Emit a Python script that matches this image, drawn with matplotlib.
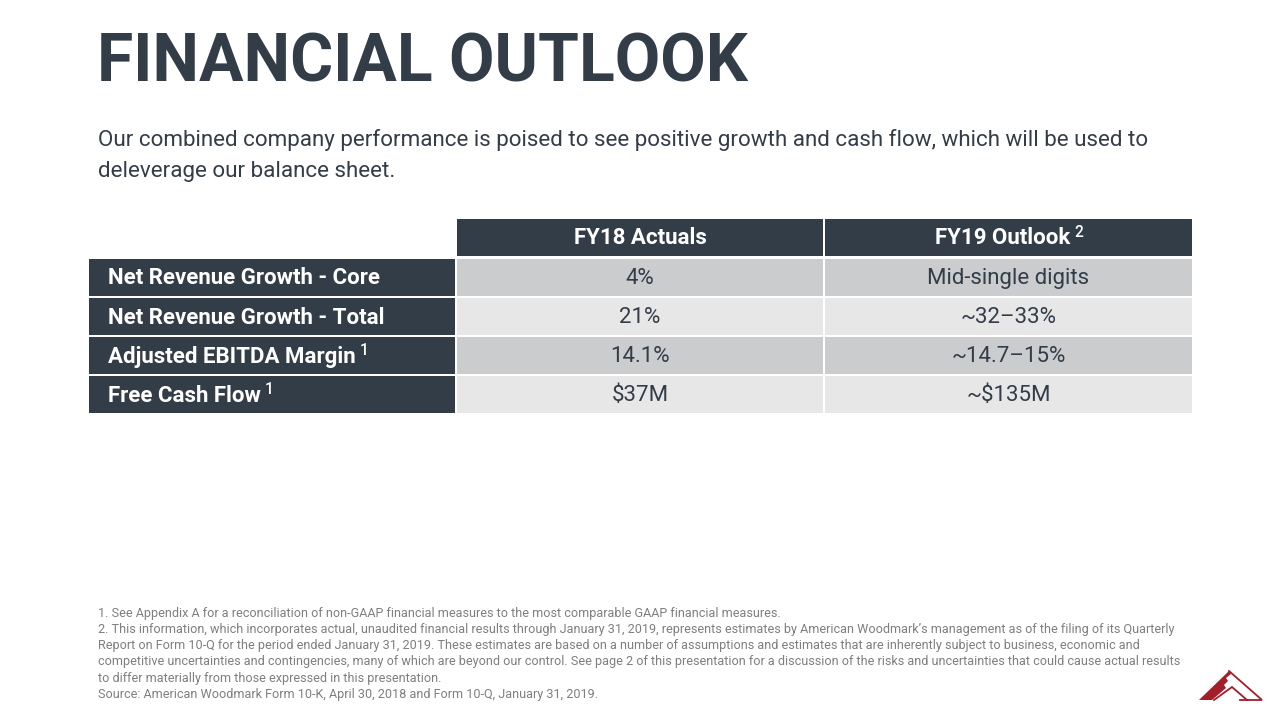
import matplotlib
matplotlib.use("Agg")
import matplotlib.pyplot as plt
from matplotlib.patches import Rectangle, Polygon

# ======================
# DATA
# ======================
title = "FINANCIAL OUTLOOK"
subtitle_lines = [
    "Our combined company performance is poised to see positive growth and cash flow, which will be used to",
    "deleverage our balance sheet.",
]
col_headers = ["FY18 Actuals", "FY19 Outlook"]
col_header_notes = ["", "2"]
row_labels = [
    "Net Revenue Growth - Core",
    "Net Revenue Growth - Total",
    "Adjusted EBITDA Margin",
    "Free Cash Flow",
]
row_label_notes = ["", "", "1", "1"]
fy18_actuals = ["4%", "21%", "14.1%", "$37M"]
fy19_outlook = ["Mid-single digits", "~32\u201333%", "~14.7\u201315%", "~$135M"]
footnotes = [
    "1. See Appendix A for a reconciliation of non-GAAP financial measures to the most comparable GAAP financial measures.",
    "2. This information, which incorporates actual, unaudited financial results through January 31, 2019, represents estimates by American Woodmark\u2019s management as of the filing of its Quarterly",
    "Report on Form 10-Q for the period ended January 31, 2019. These estimates are based on a number of assumptions and estimates that are inherently subject to business, economic and",
    "competitive uncertainties and contingencies, many of which are beyond our control. See page 2 of this presentation for a discussion of the risks and uncertainties that could cause actual results",
    "to differ materially from those expressed in this presentation.",
    "Source: American Woodmark Form 10-K, April 30, 2018 and Form 10-Q, January 31, 2019.",
]

# ======================
# STYLE
# ======================
DARK = "#333d48"
ROW_DARK = "#cbcccd"
ROW_LIGHT = "#e7e7e8"
NOTE_GREY = "#7f7f7f"
LOGO_RED = "#a31d2a"
FONT = ["Roboto", "DejaVu Sans"]

fig = plt.figure(figsize=(12.8, 7.2), dpi=100)
ax = fig.add_axes([0, 0, 1, 1])
ax.set_xlim(0, 1280)
ax.set_ylim(720, 0)
ax.axis("off")
renderer = fig.canvas.get_renderer()


def sup_text(x, y, main, note, ha, **kw):
    """Text with a small raised note after it (x in pixels)."""
    t = ax.text(x, y, main, ha=ha, va="center", **kw)
    if not note:
        return t
    if ha == "center":
        t.set_x(x - 6)
    bb = t.get_window_extent(renderer)
    ax.text(bb.x1 + 4, y - 6, note, ha="left", va="center",
            fontsize=kw.get("fontsize", 15) * 0.7,
            color=kw.get("color"), family=kw.get("family"),
            fontweight="medium")
    return t


# title + subtitle
ax.text(97, 82, title, ha="left", va="baseline", fontsize=47.5,
        fontweight="bold", color=DARK, family=FONT)
for i, line in enumerate(subtitle_lines):
    ax.text(98, 140 + i * 31, line, ha="left", va="center", fontsize=16.1,
            color=DARK, family=FONT)

# ======================
# TABLE
# ======================
label_x0, label_x1 = 89, 456
col_edges = [(457, 823), (825, 1192)]
header_top, header_bot = 219, 256
row_h, row_gap = 37, 2
row_top0 = 259

for (c0, c1), head, note in zip(col_edges, col_headers, col_header_notes):
    ax.add_patch(Rectangle((c0, header_top), c1 - c0, header_bot - header_top,
                           facecolor=DARK, edgecolor="none"))
    sup_text((c0 + c1) / 2, (header_top + header_bot) / 2 + 1, head, note,
             "center", fontsize=16, fontweight="bold", color="white", family=FONT)

for i, (lab, note) in enumerate(zip(row_labels, row_label_notes)):
    top = row_top0 + i * (row_h + row_gap)
    yc = top + row_h / 2 + 1
    ax.add_patch(Rectangle((label_x0, top), label_x1 - label_x0 - 1, row_h,
                           facecolor=DARK, edgecolor="none"))
    sup_text(108, yc, lab, note, "left", fontsize=16, fontweight="bold",
             color="white", family=FONT)
    fill = ROW_DARK if i % 2 == 0 else ROW_LIGHT
    for (c0, c1), val in zip(col_edges, [fy18_actuals[i], fy19_outlook[i]]):
        ax.add_patch(Rectangle((c0, top), c1 - c0, row_h,
                               facecolor=fill, edgecolor="none"))
        ax.text((c0 + c1) / 2, yc, val, ha="center", va="center",
                fontsize=16, color=DARK, family=FONT)

# ======================
# FOOTNOTES
# ======================
for i, line in enumerate(footnotes):
    ax.text(98, 613 + i * 16.3, line, ha="left", va="center", fontsize=9.1,
            color=NOTE_GREY, family=FONT)

# ======================
# LOGO (mountain mark)
# ======================
ax.add_patch(Polygon([(1199, 700), (1229, 671), (1231, 674), (1226, 678),
                      (1228, 681), (1224, 685), (1226, 688), (1212, 700)],
                     closed=True, facecolor=LOGO_RED, edgecolor="none"))
ax.plot([1229, 1262, 1240], [671, 700, 700], color=LOGO_RED, lw=1.3,
        solid_joinstyle="miter")
ax.plot([1214, 1232, 1247], [700, 687, 700], color=LOGO_RED, lw=1.3,
        solid_joinstyle="miter")

fig.savefig("out.png", dpi=100)
